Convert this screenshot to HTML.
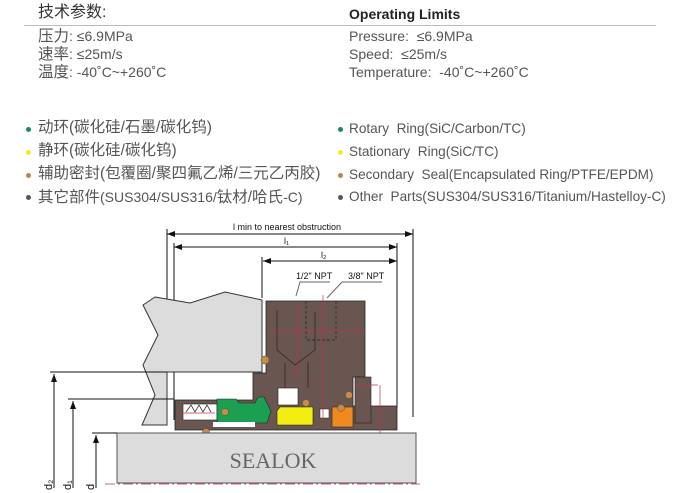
<!DOCTYPE html>
<html><head><meta charset="utf-8"><style>
body{margin:0;width:691px;height:493px;background:#fff;overflow:hidden;position:relative;font-family:"Liberation Sans","Noto Sans CJK SC",sans-serif;color:#555}
.t{position:absolute;font-size:14px;white-space:nowrap;line-height:16px}
.r{font-size:13.6px}
.c{font-size:15.5px}
.d{position:absolute;width:5px;height:5px;border-radius:50%}
</style></head><body>
<div class="t" style="left:38px;top:5px;font-size:16px;color:#333">技术参数:</div>
<div class="t" style="left:349px;top:6px;font-size:14px;font-weight:bold;color:#222">Operating Limits</div>
<div style="position:absolute;left:24px;top:25px;width:632px;height:1px;background:#bbb"></div>
<div class="t" style="left:38px;top:28px"><span class="c">压力</span>: ≤6.9MPa</div>
<div class="t" style="left:38px;top:46px"><span class="c">速率</span>: ≤25m/s</div>
<div class="t" style="left:38px;top:64px"><span class="c">温度</span>: -40˚C~+260˚C</div>
<div class="t" style="left:349px;top:28px">Pressure: &nbsp;≤6.9MPa</div>
<div class="t" style="left:349px;top:46px">Speed: &nbsp;≤25m/s</div>
<div class="t" style="left:349px;top:64px">Temperature: &nbsp;-40˚C~+260˚C</div>

<div class="d" style="left:26px;top:127px;background:#1a8a5a"></div>
<div class="d" style="left:26px;top:150px;background:#ecec30"></div>
<div class="d" style="left:26px;top:173px;background:#b08a50"></div>
<div class="d" style="left:26px;top:195px;background:#555"></div>
<div class="t c" style="left:38px;top:120px">动环(碳化硅/石墨/碳化钨)</div>
<div class="t c" style="left:38px;top:143px">静环(碳化硅/碳化钨)</div>
<div class="t c" style="left:38px;top:166px">辅助密封(包覆圈/聚四氟乙烯/三元乙丙胶)</div>
<div class="t" style="left:38px;top:189px"><span class="c">其它部件</span>(SUS304/SUS316/<span class="c">钛材/哈氏</span>-C)</div>
<div class="d" style="left:338px;top:127px;background:#1a8a5a"></div>
<div class="d" style="left:338px;top:150px;background:#ecec30"></div>
<div class="d" style="left:338px;top:173px;background:#b08a50"></div>
<div class="d" style="left:338px;top:195px;background:#555"></div>
<div class="t r" style="left:349px;top:121px">Rotary &nbsp;Ring(SiC/Carbon/TC)</div>
<div class="t r" style="left:349px;top:144px">Stationary &nbsp;Ring(SiC/TC)</div>
<div class="t r" style="left:349px;top:167px">Secondary &nbsp;Seal(Encapsulated Ring/PTFE/EPDM)</div>
<div class="t r" style="left:349px;top:189px">Other &nbsp;Parts(SUS304/SUS316/Titanium/Hastelloy-C)</div>

<svg width="691" height="493" style="position:absolute;left:0;top:0" font-family="Liberation Sans,sans-serif">
<defs><marker id="a" markerWidth="8" markerHeight="6" refX="8" refY="3" orient="auto-start-reverse"><path d="M0,0L8,3L0,6z" fill="#111"/></marker></defs>
<g stroke="#111" stroke-width="1" fill="none">
<line x1="167" y1="234" x2="413" y2="234" marker-start="url(#a)" marker-end="url(#a)"/>
<line x1="174" y1="247" x2="397" y2="247" marker-start="url(#a)" marker-end="url(#a)"/>
<line x1="263" y1="261" x2="397" y2="261" marker-start="url(#a)" marker-end="url(#a)"/>
<line x1="167" y1="229" x2="167" y2="372"/>
<line x1="413" y1="229" x2="413" y2="417"/>
<line x1="174" y1="243" x2="174" y2="420"/>
<line x1="397" y1="243" x2="397" y2="408"/>
<line x1="262" y1="257" x2="262" y2="298"/>
</g>
<text x="287" y="230" font-size="9" text-anchor="middle" fill="#111">l  min to nearest obstruction</text>
<text x="284" y="244" font-size="9" fill="#111">l₁</text>
<text x="321" y="258" font-size="9" fill="#111">l₂</text>
<text x="296" y="279" font-size="9" fill="#111">1/2" NPT</text>
<text x="348" y="279" font-size="9" fill="#111">3/8" NPT</text>
<polyline points="330,282 300,282 296,296" stroke="#666" fill="none"/>
<polyline points="382,282 342,282 327,298" stroke="#666" fill="none"/>
<polygon points="155,297 190,303 225,292 262,300 262,372 167,372 167,425 142,425 155,395 143,365 158,335 143,305" fill="#dcdcdc" stroke="#333" stroke-width="1"/>
<path d="M266,301H365V377H353V406H371V406H397V430H175V400H253V380H253V373H266Z" fill="#6a5651" stroke="#222" stroke-width="0.8"/>
<rect x="355" y="377" width="16" height="46" fill="#6a5651" stroke="#222" stroke-width="0.6"/>
<rect x="278" y="388" width="20" height="17" fill="#fff" stroke="#222" stroke-width="0.6"/>
<rect x="183" y="404" width="34" height="16" fill="#fff" stroke="#222" stroke-width="0.6"/>
<path d="M186,412l5,-7 4,7 4,-7 4,7 4,-7 4,7" stroke="#333" fill="none" stroke-width="0.8"/>
<path d="M217,399h19l3,4h16l3,-6h6l7,14-4,12h-50z" fill="#1aa050" stroke="#222" stroke-width="0.6"/>
<path d="M280,407h33v18h-36v-14z" fill="#f2ee10" stroke="#222" stroke-width="0.6"/>
<path d="M332,407h21v20h-21z" fill="#ee8a1f" stroke="#222" stroke-width="0.6"/>
<rect x="320" y="409" width="9" height="9" fill="#fff" stroke="#222" stroke-width="0.5"/>
<rect x="213" y="422" width="42" height="5" fill="#fff"/>
<g fill="#c98a4a" stroke="#553" stroke-width="0.5">
<circle cx="265" cy="360" r="4"/><circle cx="225" cy="412" r="3.5"/><circle cx="206" cy="432" r="3.5"/>
<circle cx="306" cy="403" r="3.5"/><circle cx="349" cy="395" r="3.5"/><circle cx="341" cy="408" r="3.5"/>
</g>
<g stroke="#c0304a" stroke-width="0.7" fill="none">
<line x1="297" y1="303" x2="297" y2="380"/><line x1="268" y1="331" x2="365" y2="331"/>
<line x1="323" y1="295" x2="323" y2="420"/><line x1="380" y1="385" x2="380" y2="440"/>
<line x1="355" y1="385" x2="378" y2="385"/><line x1="178" y1="413" x2="215" y2="413"/>
</g>
<g stroke="#222" stroke-width="0.7" fill="none">
<path d="M277,310V350L295,365L315,350V312"/>
<line x1="285" y1="363" x2="285" y2="388"/><line x1="308" y1="362" x2="308" y2="388"/>
<path d="M306,301V340H336V301" stroke-dasharray="3,2"/>
</g>
<rect x="117" y="433" width="299" height="50" fill="#dcdcdc" stroke="#555"/>
<text x="273" y="468" font-family="Liberation Serif,serif" font-size="22" text-anchor="middle" fill="#666">SEALOK</text>
<line x1="105" y1="484" x2="420" y2="484" stroke="#c0304a" stroke-width="0.8" stroke-dasharray="10,3,2,3"/>
<g stroke="#111" fill="none">
<line x1="50" y1="372" x2="167" y2="372"/><line x1="54" y1="488" x2="54" y2="374" marker-end="url(#a)"/>
<line x1="68" y1="399" x2="174" y2="399"/><line x1="73" y1="488" x2="73" y2="401" marker-end="url(#a)"/>
<line x1="92" y1="433" x2="117" y2="433"/><line x1="96" y1="488" x2="96" y2="435" marker-end="url(#a)"/>
</g>
<g font-size="11" fill="#111">
<text transform="translate(52,490) rotate(-90)">d₂</text>
<text transform="translate(71,490) rotate(-90)">d₁</text>
<text transform="translate(94,490) rotate(-90)">d</text>
</g>
</svg>
</body></html>
